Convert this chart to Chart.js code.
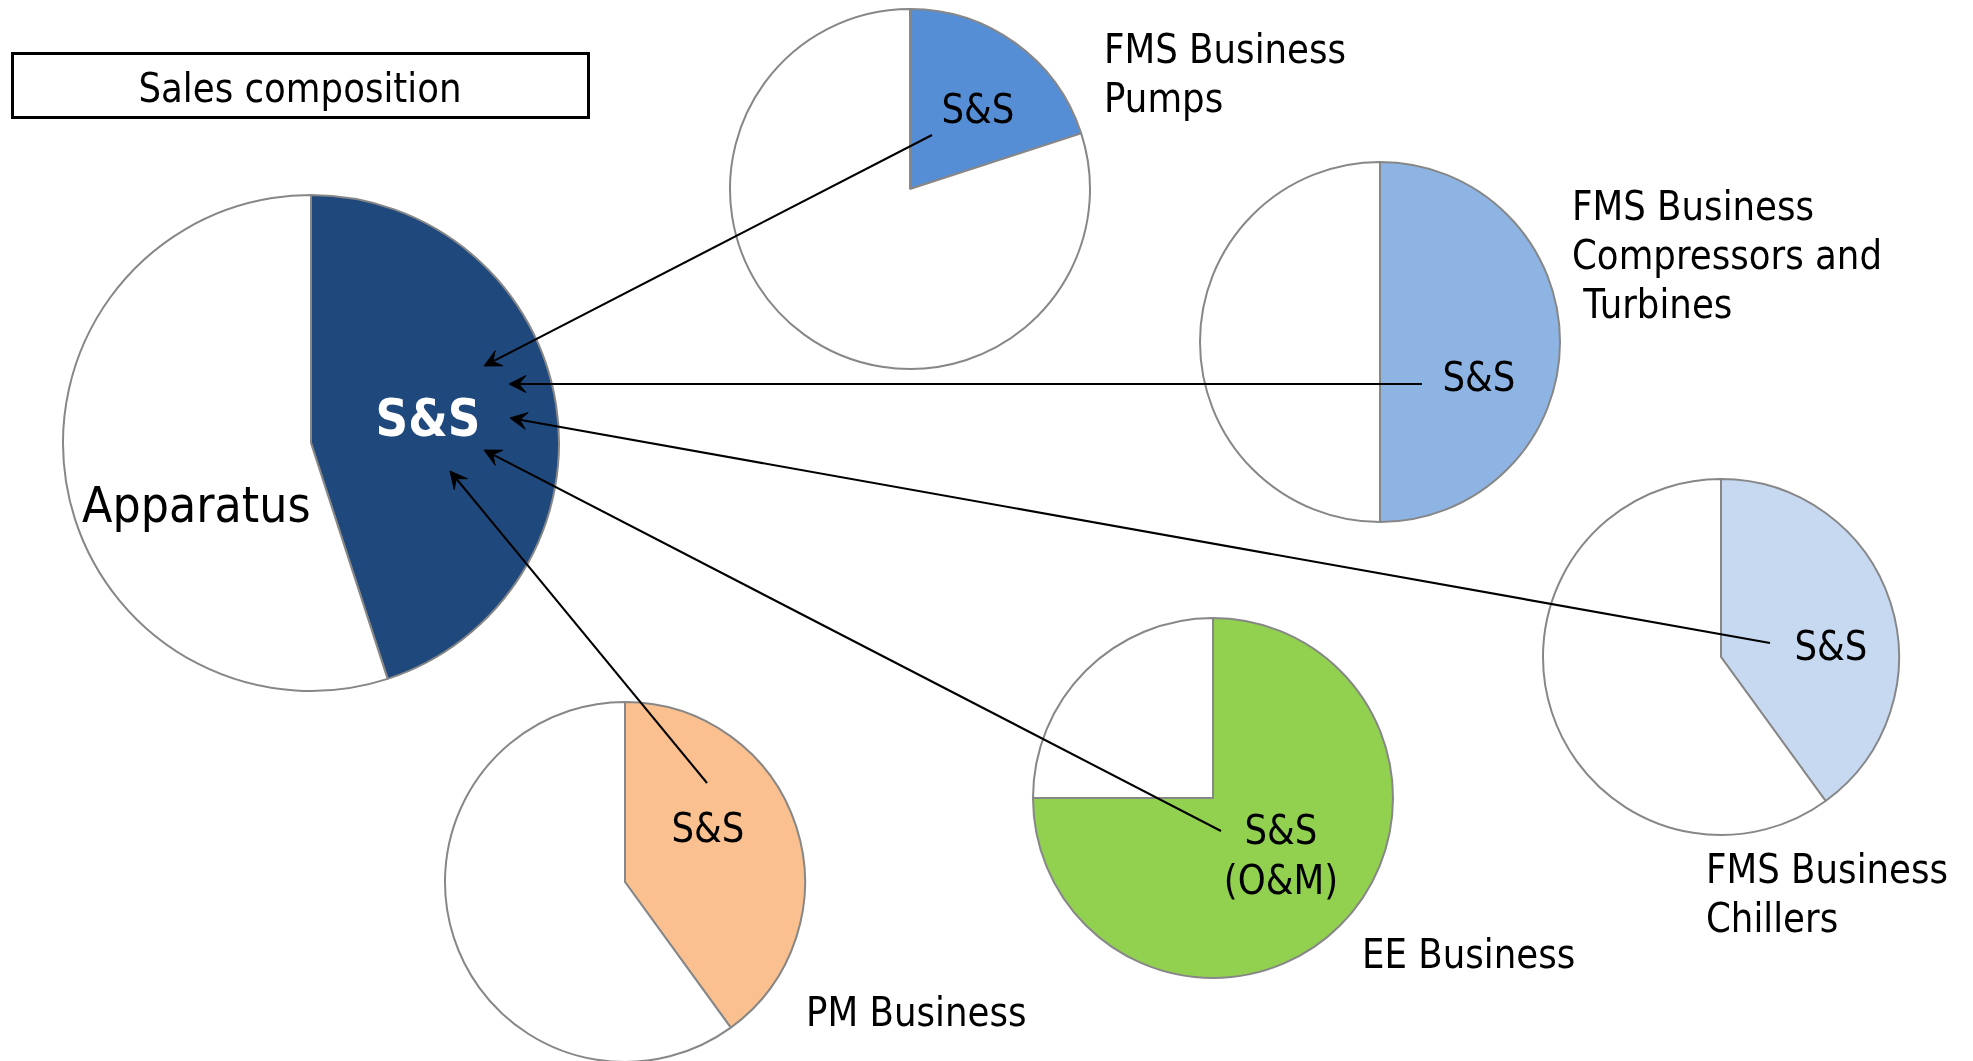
<!DOCTYPE html>
<html>
<head>
<meta charset="utf-8">
<script src="https://cdn.jsdelivr.net/npm/chart.js@4.4.1/dist/chart.umd.min.js"></script>
<style>
html,body{margin:0;padding:0;background:#fff;}
#stage{position:relative;width:1973px;height:1061px;overflow:hidden;background:#fff;font-family:"DejaVu Sans",sans-serif;color:#000;}
.pie{position:absolute;}
.lbl{position:absolute;white-space:pre;font-size:40px;line-height:49px;transform:scaleX(0.89);transform-origin:0 0;}
.ctr{text-align:center;transform-origin:50% 0;}
#box{position:absolute;left:10.5px;top:51.5px;width:579px;height:67px;border:3px solid #000;box-sizing:border-box;}
#arrows{position:absolute;left:0;top:0;}
</style>
</head>
<body>
<div id="stage">
  <div id="box"></div>
</div>
<script>
// ---------- DATA ----------
const sliceLabels = ['S&S', 'Other'];
const mainValues = [45, 55];          // S&S, Apparatus
const pumpsValues = [20, 80];         // FMS Business Pumps
const compressorsValues = [50, 50];   // FMS Business Compressors and Turbines
const chillersValues = [40, 60];      // FMS Business Chillers
const pmValues = [40, 60];            // PM Business
const eeValues = [75, 25];            // EE Business (S&S (O&M))

// ---------- LAYOUT ----------
const stage = document.getElementById('stage');
const pies = [
  {key:'main',  values: mainValues,        color:'#1F497D', cx:311,  cy:443, r:249},
  {key:'pumps', values: pumpsValues,       color:'#558ED5', cx:910,  cy:189, r:181},
  {key:'comp',  values: compressorsValues, color:'#8EB4E3', cx:1380, cy:342, r:181},
  {key:'chill', values: chillersValues,    color:'#C6D9F1', cx:1721, cy:657, r:179},
  {key:'pm',    values: pmValues,          color:'#FAC090', cx:625,  cy:882, r:181},
  {key:'ee',    values: eeValues,          color:'#92D050', cx:1213, cy:798, r:181}
];

pies.forEach(p => {
  const pad = 2;
  const size = 2 * p.r + 2 * pad;
  const div = document.createElement('div');
  div.className = 'pie';
  div.style.left = (p.cx - size / 2) + 'px';
  div.style.top = (p.cy - size / 2) + 'px';
  const c = document.createElement('canvas');
  c.width = size; c.height = size;
  c.style.width = size + 'px'; c.style.height = size + 'px';
  div.appendChild(c);
  stage.appendChild(div);
  new Chart(c, {
    type: 'pie',
    data: {
      labels: sliceLabels,
      datasets: [{
        data: p.values,
        backgroundColor: [p.color, '#FFFFFF'],
        borderColor: '#878787',
        borderWidth: 2
      }]
    },
    options: {
      responsive: false,
      animation: false,
      devicePixelRatio: 1,
      events: [],
      layout: {padding: pad},
      plugins: {legend: {display: false}, tooltip: {enabled: false}}
    }
  });
});

// ---------- ARROWS (annotation geometry) ----------
const arrows = [
  {from:[932, 135],  to:[484, 366]},
  {from:[1422, 384], to:[509, 384]},
  {from:[1770, 643], to:[510, 418]},
  {from:[1221, 831], to:[484, 450]},
  {from:[707, 783],  to:[450, 471]}
];
const NS = 'http://www.w3.org/2000/svg';
const svg = document.createElementNS(NS, 'svg');
svg.setAttribute('id', 'arrows');
svg.setAttribute('width', 1973);
svg.setAttribute('height', 1061);
arrows.forEach(a => {
  const [x1, y1] = a.from, [x2, y2] = a.to;
  const dx = x2 - x1, dy = y2 - y1, len = Math.hypot(dx, dy);
  const ux = dx / len, uy = dy / len, px = -uy, py = ux;
  const L = 17, W = 8.5, N = 10;
  const line = document.createElementNS(NS, 'line');
  line.setAttribute('x1', x1); line.setAttribute('y1', y1);
  line.setAttribute('x2', x2 - N * ux); line.setAttribute('y2', y2 - N * uy);
  line.setAttribute('stroke', '#000'); line.setAttribute('stroke-width', 2.1);
  svg.appendChild(line);
  const pts = [
    [x2, y2],
    [x2 - L * ux + W * px, y2 - L * uy + W * py],
    [x2 - N * ux, y2 - N * uy],
    [x2 - L * ux - W * px, y2 - L * uy - W * py]
  ];
  const pg = document.createElementNS(NS, 'polygon');
  pg.setAttribute('points', pts.map(q => q.join(',')).join(' '));
  pg.setAttribute('fill', '#000');
  pg.setAttribute('stroke', '#000');
  pg.setAttribute('stroke-width', 1);
  pg.setAttribute('stroke-linejoin', 'round');
  svg.appendChild(pg);
});
stage.appendChild(svg);

// ---------- TEXT ----------
const labels = [
  {text:'Sales composition', x:300, top:63.7, center:true},
  {text:'S&S', x:428, top:388.5, center:true, style:'font-size:51px;line-height:60px;font-weight:bold;color:#fff;'},
  {text:'Apparatus', x:82, top:475, style:'font-size:50px;line-height:60px;'},
  {text:'S&S', x:978, top:84.7, center:true},
  {text:'FMS Business\nPumps', x:1104, top:25.3},
  {text:'S&S', x:1478.5, top:352.7, center:true},
  {text:'FMS Business\nCompressors and\n Turbines', x:1572, top:181.7},
  {text:'S&S', x:1830.5, top:621.7, center:true},
  {text:'FMS Business\nChillers', x:1706, top:844.7},
  {text:'S&S', x:707.5, top:803.7, center:true},
  {text:'PM Business', x:806, top:987.7},
  {text:'S&S\n(O&M)', x:1281, top:805, center:true, style:'line-height:50px;'},
  {text:'EE Business', x:1361.5, top:930}
];
labels.forEach(l => {
  const d = document.createElement('div');
  d.className = 'lbl' + (l.center ? ' ctr' : '');
  d.textContent = l.text;
  d.style.top = l.top + 'px';
  if (l.center) { d.style.left = (l.x - 200) + 'px'; d.style.width = '400px'; }
  else { d.style.left = l.x + 'px'; }
  if (l.style) d.style.cssText += l.style;
  stage.appendChild(d);
});
</script>
</body>
</html>
